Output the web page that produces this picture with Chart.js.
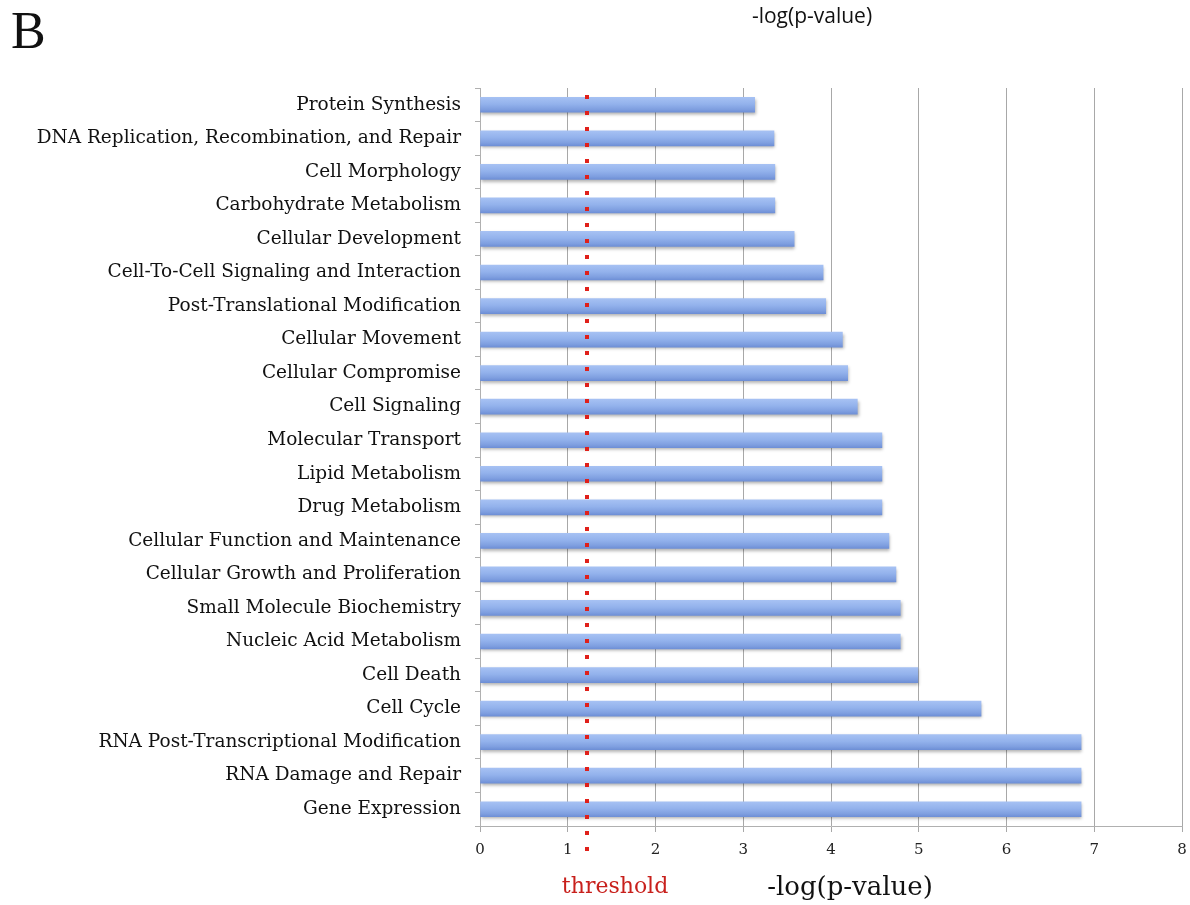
<!DOCTYPE html>
<html><head><meta charset="utf-8">
<script src="https://cdn.jsdelivr.net/npm/chart.js@4.4.1/dist/chart.umd.min.js"></script>
<style>html,body{margin:0;padding:0;background:#fff}#wrap{width:1190px;height:905px;position:relative}</style>
</head><body><div id="wrap"><canvas id="c" width="1190" height="905"></canvas></div>
<script>
const categories = ["Protein Synthesis","DNA Replication, Recombination, and Repair","Cell Morphology","Carbohydrate Metabolism","Cellular Development","Cell-To-Cell Signaling and Interaction","Post-Translational Modification","Cellular Movement","Cellular Compromise","Cell Signaling","Molecular Transport","Lipid Metabolism","Drug Metabolism","Cellular Function and Maintenance","Cellular Growth and Proliferation","Small Molecule Biochemistry","Nucleic Acid Metabolism","Cell Death","Cell Cycle","RNA Post-Transcriptional Modification","RNA Damage and Repair","Gene Expression"];
const values = [3.13,3.35,3.36,3.36,3.58,3.91,3.94,4.13,4.19,4.30,4.58,4.58,4.58,4.66,4.74,4.79,4.79,4.99,5.71,6.85,6.85,6.85];
const threshold = 1.22;
const xTicks = [0,1,2,3,4,5,6,7,8];
const panelLabel = "B";
const topTitle = "-log(p-value)";
const xTitle = "-log(p-value)";
const thresholdLabel = "threshold";

function barGradient(ctx){
  const chart = ctx.chart;
  const ys = chart.scales && chart.scales.y;
  if(!ys || !chart.chartArea) return '#8eaeea';
  const yc = ys.getPixelForValue(ctx.dataIndex);
  const h = 15;
  const g = chart.ctx.createLinearGradient(0, yc - h/2, 0, yc + h/2);
  g.addColorStop(0, '#a6c1f3');
  g.addColorStop(0.45, '#93b2ec');
  g.addColorStop(0.8, '#7f9fe0');
  g.addColorStop(1, '#6e8fd6');
  return g;
}

const shadowPlugin = {
  id:'shadow',
  beforeDatasetDraw(chart){ const c=chart.ctx; c.save(); c.shadowColor='rgba(0,0,0,0.3)'; c.shadowBlur=3; c.shadowOffsetX=1; c.shadowOffsetY=2; },
  afterDatasetDraw(chart){ chart.ctx.restore(); }
};

const overlayPlugin = {
  id:'overlay',
  afterDatasetsDraw(chart){
    const c = chart.ctx, xs = chart.scales.x, ca = chart.chartArea;
    const tx = Math.round(xs.getPixelForValue(threshold));
    c.save();
    c.fillStyle = '#e0201a';
    for(let y = ca.top + 7; y < ca.bottom + 30; y += 16){
      c.fillRect(tx - 2, y, 4, 4);
    }
    c.restore();
  },
  afterDraw(chart){
    const c = chart.ctx, xs = chart.scales.x;
    c.save();
    c.fillStyle = '#111';
    c.font = '52px "Liberation Serif"';
    c.textAlign = 'left'; c.textBaseline = 'alphabetic';
    c.fillText(panelLabel, 11, 48);
    c.font = '21px "Open Sans"';
    c.textAlign = 'center';
    c.fillText(topTitle, 812, 23);
    c.fillStyle = '#c8201c';
    c.font = '22px "DejaVu Serif"';
    c.fillText(thresholdLabel, xs.getPixelForValue(threshold) + 28, 893);
    c.fillStyle = '#111';
    c.font = '26px "DejaVu Serif"';
    c.fillText(xTitle, 850, 895);
    c.restore();
  }
};

new Chart(document.getElementById('c'), {
  type:'bar',
  data:{ labels: categories, datasets:[{ data: values, backgroundColor: barGradient, borderWidth:0, barThickness:15 }]},
  options:{
    indexAxis:'y', responsive:false, animation:false,
    layout:{ padding:{ top:88, right:8, left:0, bottom:0 } },
    plugins:{ legend:{display:false}, tooltip:{enabled:false} },
    scales:{
      x:{
        type:'linear', min:0, max:8,
        afterBuildTicks(s){ s.ticks = xTicks.map(v=>({value:v})); },
        afterFit(s){ s.height = 79; s.paddingRight = 0; s.paddingLeft = 0; },
        border:{ color:'#b0b0b0', width:1 },
        grid:{ color:'#a8a8a8', lineWidth:1, tickLength:6, drawTicks:true },
        ticks:{ color:'#222', font:{ family:'"DejaVu Serif"', size:15 }, padding:9 }
      },
      y:{
        type:'category', offset:true,
        afterFit(s){ s.width = 480; },
        border:{ color:'#b0b0b0', width:1 },
        grid:{ offset:true, drawOnChartArea:false, tickLength:5, color:'#b0b0b0' },
        ticks:{ color:'#111', font:{ family:'"DejaVu Serif"', size:18.5 }, padding:14, autoSkip:false }
      }
    }
  },
  plugins:[shadowPlugin, overlayPlugin]
});
</script></body></html>
